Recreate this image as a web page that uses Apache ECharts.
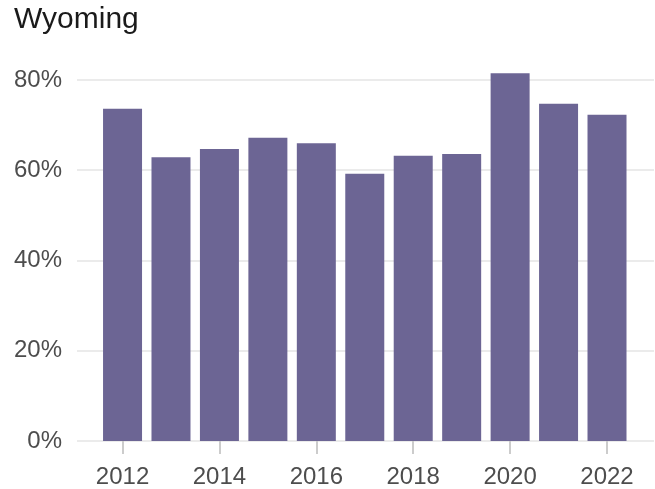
<!DOCTYPE html>
<html>
<head>
<meta charset="utf-8">
<title>Wyoming</title>
<script src="https://cdn.jsdelivr.net/npm/echarts@6/dist/echarts.min.js"></script>
<style>
  html, body { margin: 0; padding: 0; background: #ffffff; }
  #chart { width: 655px; height: 489px; }
</style>
</head>
<body>
<div id="chart"></div>
<script>
// Share by year, in percent
const years = [2012, 2013, 2014, 2015, 2016, 2017, 2018, 2019, 2020, 2021, 2022];
const shares = [73.6, 62.9, 64.7, 67.2, 66.0, 59.2, 63.2, 63.6, 81.5, 74.7, 72.3];

// Labelled ticks on each axis
const yearTicks = [2012, 2014, 2016, 2018, 2020, 2022];
const percentTicks = [0, 20, 40, 60, 80];

const FONT = 'Liberation Sans';

const chart = echarts.init(document.getElementById('chart'), null, { renderer: 'canvas' });

chart.setOption({
  backgroundColor: '#ffffff',
  animation: false,
  title: {
    text: 'Wyoming',
    left: 9,
    top: 0,
    textStyle: { fontFamily: FONT, fontSize: 30, fontWeight: 'normal', color: '#1a1a1a' }
  },
  grid: { left: 77, right: 1, top: 61.9, bottom: 47.8, containLabel: false },
  xAxis: {
    type: 'value',
    min: 2011.06,
    max: 2022.97,
    axisLine: { show: false },
    splitLine: { show: false },
    axisTick: {
      show: true,
      customValues: yearTicks,
      length: 13,
      lineStyle: { color: '#cccccc', width: 2 }
    },
    axisLabel: {
      customValues: yearTicks,
      margin: 24,
      fontFamily: FONT,
      fontSize: 24,
      color: '#4d4d4d',
      formatter: v => String(v)
    }
  },
  yAxis: {
    type: 'value',
    min: 0,
    max: 84,
    interval: 20,
    axisLine: { show: false },
    axisTick: { show: false },
    splitLine: {
      show: true,
      showMaxLine: false,
      lineStyle: { color: '#ebebeb', width: 1.8 }
    },
    axisLabel: {
      showMaxLabel: false,
      margin: 15,
      fontFamily: FONT,
      fontSize: 24,
      color: '#4d4d4d',
      formatter: v => (percentTicks.indexOf(v) >= 0 ? v + '%' : '')
    }
  },
  series: [{
    type: 'bar',
    data: years.map((y, i) => [y, shares[i]]),
    barWidth: 39,
    itemStyle: { color: '#6c6594' },
    z: 3
  }]
});
</script>
</body>
</html>
